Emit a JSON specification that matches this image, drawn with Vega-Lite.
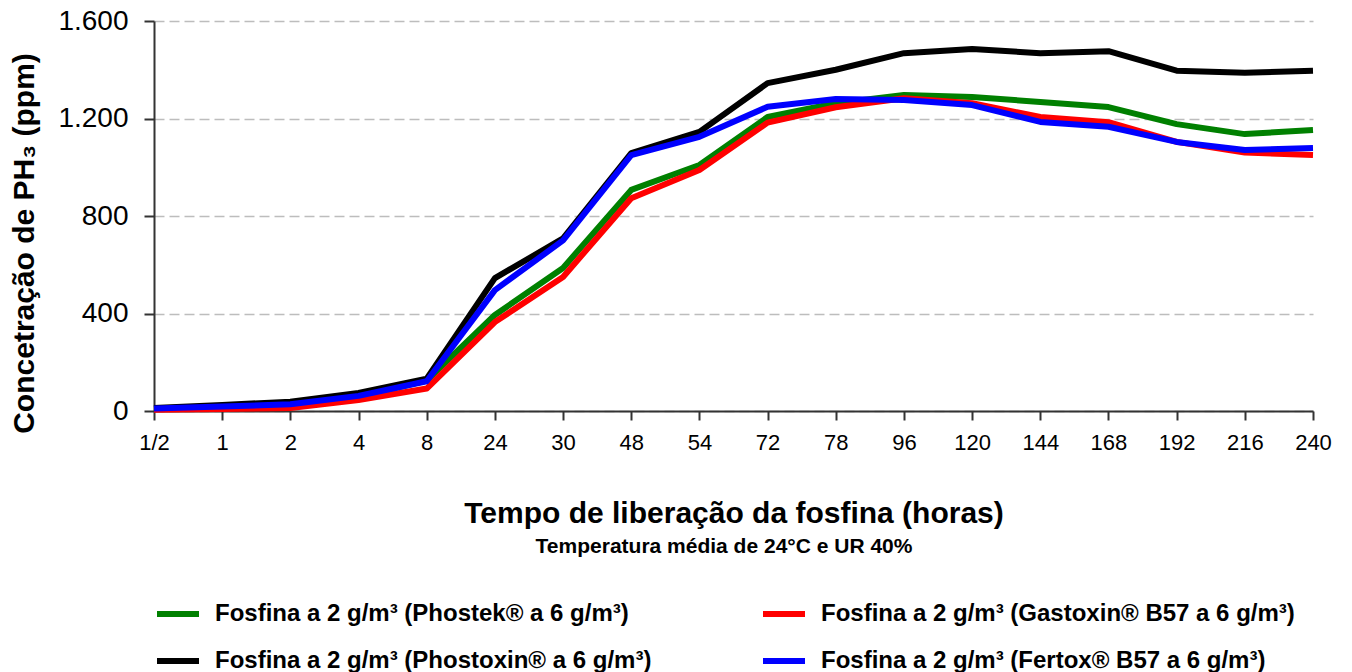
{
  "$schema": "https://vega.github.io/schema/vega-lite/v6.json",
  "width": 1159,
  "height": 390,
  "autosize": {"type": "none"},
  "padding": {"left": 154, "top": 21, "right": 39, "bottom": 261},
  "background": "white",
  "config": {
    "view": {"stroke": null},
    "font": "Liberation Sans"
  },
  "data": {
    "values": [
      {"t": "1/2", "s": "Fosfina a 2 g/m³ (Phostek® a 6 g/m³)", "v": 10},
      {"t": "1", "s": "Fosfina a 2 g/m³ (Phostek® a 6 g/m³)", "v": 16},
      {"t": "2", "s": "Fosfina a 2 g/m³ (Phostek® a 6 g/m³)", "v": 26},
      {"t": "4", "s": "Fosfina a 2 g/m³ (Phostek® a 6 g/m³)", "v": 58},
      {"t": "8", "s": "Fosfina a 2 g/m³ (Phostek® a 6 g/m³)", "v": 125},
      {"t": "24", "s": "Fosfina a 2 g/m³ (Phostek® a 6 g/m³)", "v": 394},
      {"t": "30", "s": "Fosfina a 2 g/m³ (Phostek® a 6 g/m³)", "v": 587},
      {"t": "48", "s": "Fosfina a 2 g/m³ (Phostek® a 6 g/m³)", "v": 907},
      {"t": "54", "s": "Fosfina a 2 g/m³ (Phostek® a 6 g/m³)", "v": 1009},
      {"t": "72", "s": "Fosfina a 2 g/m³ (Phostek® a 6 g/m³)", "v": 1206},
      {"t": "78", "s": "Fosfina a 2 g/m³ (Phostek® a 6 g/m³)", "v": 1263},
      {"t": "96", "s": "Fosfina a 2 g/m³ (Phostek® a 6 g/m³)", "v": 1296},
      {"t": "120", "s": "Fosfina a 2 g/m³ (Phostek® a 6 g/m³)", "v": 1288},
      {"t": "144", "s": "Fosfina a 2 g/m³ (Phostek® a 6 g/m³)", "v": 1268},
      {"t": "168", "s": "Fosfina a 2 g/m³ (Phostek® a 6 g/m³)", "v": 1247},
      {"t": "192", "s": "Fosfina a 2 g/m³ (Phostek® a 6 g/m³)", "v": 1177},
      {"t": "216", "s": "Fosfina a 2 g/m³ (Phostek® a 6 g/m³)", "v": 1136},
      {"t": "240", "s": "Fosfina a 2 g/m³ (Phostek® a 6 g/m³)", "v": 1153},

      {"t": "1/2", "s": "Fosfina a 2 g/m³ (Gastoxin® B57 a 6 g/m³)", "v": 5},
      {"t": "1", "s": "Fosfina a 2 g/m³ (Gastoxin® B57 a 6 g/m³)", "v": 8},
      {"t": "2", "s": "Fosfina a 2 g/m³ (Gastoxin® B57 a 6 g/m³)", "v": 12},
      {"t": "4", "s": "Fosfina a 2 g/m³ (Gastoxin® B57 a 6 g/m³)", "v": 45},
      {"t": "8", "s": "Fosfina a 2 g/m³ (Gastoxin® B57 a 6 g/m³)", "v": 92},
      {"t": "24", "s": "Fosfina a 2 g/m³ (Gastoxin® B57 a 6 g/m³)", "v": 365},
      {"t": "30", "s": "Fosfina a 2 g/m³ (Gastoxin® B57 a 6 g/m³)", "v": 550},
      {"t": "48", "s": "Fosfina a 2 g/m³ (Gastoxin® B57 a 6 g/m³)", "v": 873},
      {"t": "54", "s": "Fosfina a 2 g/m³ (Gastoxin® B57 a 6 g/m³)", "v": 989},
      {"t": "72", "s": "Fosfina a 2 g/m³ (Gastoxin® B57 a 6 g/m³)", "v": 1183},
      {"t": "78", "s": "Fosfina a 2 g/m³ (Gastoxin® B57 a 6 g/m³)", "v": 1246},
      {"t": "96", "s": "Fosfina a 2 g/m³ (Gastoxin® B57 a 6 g/m³)", "v": 1283},
      {"t": "120", "s": "Fosfina a 2 g/m³ (Gastoxin® B57 a 6 g/m³)", "v": 1263},
      {"t": "144", "s": "Fosfina a 2 g/m³ (Gastoxin® B57 a 6 g/m³)", "v": 1206},
      {"t": "168", "s": "Fosfina a 2 g/m³ (Gastoxin® B57 a 6 g/m³)", "v": 1185},
      {"t": "192", "s": "Fosfina a 2 g/m³ (Gastoxin® B57 a 6 g/m³)", "v": 1104},
      {"t": "216", "s": "Fosfina a 2 g/m³ (Gastoxin® B57 a 6 g/m³)", "v": 1060},
      {"t": "240", "s": "Fosfina a 2 g/m³ (Gastoxin® B57 a 6 g/m³)", "v": 1050},

      {"t": "1/2", "s": "Fosfina a 2 g/m³ (Phostoxin® a 6 g/m³)", "v": 12},
      {"t": "1", "s": "Fosfina a 2 g/m³ (Phostoxin® a 6 g/m³)", "v": 25},
      {"t": "2", "s": "Fosfina a 2 g/m³ (Phostoxin® a 6 g/m³)", "v": 38},
      {"t": "4", "s": "Fosfina a 2 g/m³ (Phostoxin® a 6 g/m³)", "v": 74},
      {"t": "8", "s": "Fosfina a 2 g/m³ (Phostoxin® a 6 g/m³)", "v": 133},
      {"t": "24", "s": "Fosfina a 2 g/m³ (Phostoxin® a 6 g/m³)", "v": 545},
      {"t": "30", "s": "Fosfina a 2 g/m³ (Phostoxin® a 6 g/m³)", "v": 708},
      {"t": "48", "s": "Fosfina a 2 g/m³ (Phostoxin® a 6 g/m³)", "v": 1058},
      {"t": "54", "s": "Fosfina a 2 g/m³ (Phostoxin® a 6 g/m³)", "v": 1145},
      {"t": "72", "s": "Fosfina a 2 g/m³ (Phostoxin® a 6 g/m³)", "v": 1345},
      {"t": "78", "s": "Fosfina a 2 g/m³ (Phostoxin® a 6 g/m³)", "v": 1400},
      {"t": "96", "s": "Fosfina a 2 g/m³ (Phostoxin® a 6 g/m³)", "v": 1468},
      {"t": "120", "s": "Fosfina a 2 g/m³ (Phostoxin® a 6 g/m³)", "v": 1485},
      {"t": "144", "s": "Fosfina a 2 g/m³ (Phostoxin® a 6 g/m³)", "v": 1468},
      {"t": "168", "s": "Fosfina a 2 g/m³ (Phostoxin® a 6 g/m³)", "v": 1476},
      {"t": "192", "s": "Fosfina a 2 g/m³ (Phostoxin® a 6 g/m³)", "v": 1396},
      {"t": "216", "s": "Fosfina a 2 g/m³ (Phostoxin® a 6 g/m³)", "v": 1388},
      {"t": "240", "s": "Fosfina a 2 g/m³ (Phostoxin® a 6 g/m³)", "v": 1396},

      {"t": "1/2", "s": "Fosfina a 2 g/m³ (Fertox® B57 a 6 g/m³)", "v": 10},
      {"t": "1", "s": "Fosfina a 2 g/m³ (Fertox® B57 a 6 g/m³)", "v": 18},
      {"t": "2", "s": "Fosfina a 2 g/m³ (Fertox® B57 a 6 g/m³)", "v": 28},
      {"t": "4", "s": "Fosfina a 2 g/m³ (Fertox® B57 a 6 g/m³)", "v": 62},
      {"t": "8", "s": "Fosfina a 2 g/m³ (Fertox® B57 a 6 g/m³)", "v": 122},
      {"t": "24", "s": "Fosfina a 2 g/m³ (Fertox® B57 a 6 g/m³)", "v": 496},
      {"t": "30", "s": "Fosfina a 2 g/m³ (Fertox® B57 a 6 g/m³)", "v": 700},
      {"t": "48", "s": "Fosfina a 2 g/m³ (Fertox® B57 a 6 g/m³)", "v": 1050},
      {"t": "54", "s": "Fosfina a 2 g/m³ (Fertox® B57 a 6 g/m³)", "v": 1125},
      {"t": "72", "s": "Fosfina a 2 g/m³ (Fertox® B57 a 6 g/m³)", "v": 1248},
      {"t": "78", "s": "Fosfina a 2 g/m³ (Fertox® B57 a 6 g/m³)", "v": 1280},
      {"t": "96", "s": "Fosfina a 2 g/m³ (Fertox® B57 a 6 g/m³)", "v": 1276},
      {"t": "120", "s": "Fosfina a 2 g/m³ (Fertox® B57 a 6 g/m³)", "v": 1255},
      {"t": "144", "s": "Fosfina a 2 g/m³ (Fertox® B57 a 6 g/m³)", "v": 1186},
      {"t": "168", "s": "Fosfina a 2 g/m³ (Fertox® B57 a 6 g/m³)", "v": 1166},
      {"t": "192", "s": "Fosfina a 2 g/m³ (Fertox® B57 a 6 g/m³)", "v": 1104},
      {"t": "216", "s": "Fosfina a 2 g/m³ (Fertox® B57 a 6 g/m³)", "v": 1071},
      {"t": "240", "s": "Fosfina a 2 g/m³ (Fertox® B57 a 6 g/m³)", "v": 1079}
    ]
  },
  "mark": {"type": "line", "strokeWidth": 6, "strokeJoin": "round"},
  "encoding": {
    "x": {
      "field": "t",
      "type": "ordinal",
      "sort": ["1/2", "1", "2", "4", "8", "24", "30", "48", "54", "72", "78", "96", "120", "144", "168", "192", "216", "240"],
      "scale": {"type": "point", "padding": 0},
      "axis": {
        "title": "Tempo de liberação da fosfina (horas)",
        "titleFont": "Liberation Sans",
        "titleFontSize": 30,
        "titleFontWeight": "bold",
        "titleColor": "black",
        "titlePadding": 45,
        "labelAngle": 0,
        "labelFont": "Liberation Sans",
        "labelFontSize": 22,
        "labelColor": "black",
        "labelPadding": 12,
        "tickSize": 9,
        "tickWidth": 2,
        "tickColor": "#333333",
        "domainColor": "#333333",
        "domainWidth": 2,
        "grid": false
      }
    },
    "y": {
      "field": "v",
      "type": "quantitative",
      "scale": {"domain": [0, 1600], "nice": false},
      "axis": {
        "title": "Concetração de PH₃ (ppm)",
        "titleFont": "Liberation Sans",
        "titleFontSize": 30,
        "titleFontWeight": "bold",
        "titleColor": "black",
        "titlePadding": 18,
        "titleY": 222,
        "values": [0, 400, 800, 1200, 1600],
        "labelExpr": "replace(format(datum.value, ','), ',', '.')",
        "labelFont": "Liberation Sans",
        "labelFontSize": 28,
        "labelColor": "black",
        "labelPadding": 16,
        "tickSize": 10,
        "tickWidth": 2,
        "tickColor": "#333333",
        "domainColor": "#333333",
        "domainWidth": 2,
        "grid": true,
        "gridColor": "#bdbdbd",
        "gridDash": [10, 5],
        "gridWidth": 1.5
      }
    },
    "color": {
      "field": "s",
      "type": "nominal",
      "scale": {
        "domain": [
          "Fosfina a 2 g/m³ (Phostek® a 6 g/m³)",
          "Fosfina a 2 g/m³ (Gastoxin® B57 a 6 g/m³)",
          "Fosfina a 2 g/m³ (Phostoxin® a 6 g/m³)",
          "Fosfina a 2 g/m³ (Fertox® B57 a 6 g/m³)"
        ],
        "range": ["#008000", "#ff0000", "#000000", "#0000ff"]
      },
      "legend": {
        "orient": "bottom",
        "direction": "horizontal",
        "columns": 2,
        "columnPadding": 99,
        "rowPadding": 11,
        "offset": 8,
        "title": "Temperatura média de 24°C e UR 40%",
        "titleFont": "Liberation Sans",
        "titleFontSize": 21,
        "titleFontWeight": "bold",
        "titleColor": "black",
        "titleAnchor": "middle",
        "titleLimit": 900,
        "titlePadding": 33,
        "labelFont": "Liberation Sans",
        "labelFontSize": 24,
        "labelFontWeight": "bold",
        "labelColor": "black",
        "labelOffset": 13,
        "labelLimit": 800,
        "symbolType": "stroke",
        "symbolSize": 1764,
        "symbolStrokeWidth": 6
      }
    }
  }
}
